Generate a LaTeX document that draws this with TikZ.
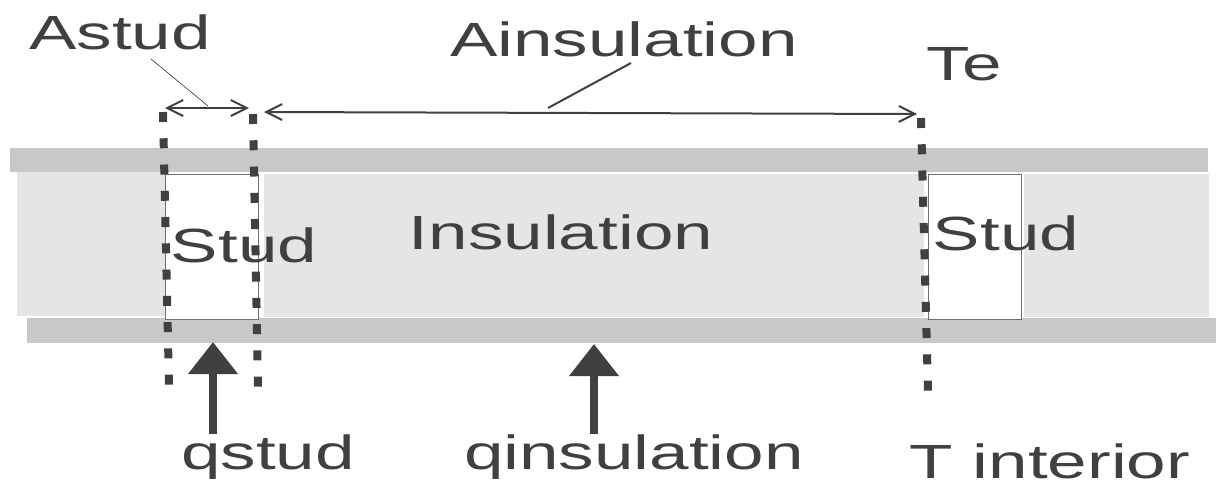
\documentclass[tikz,border=0pt]{standalone}
\usepackage{fontspec}
\setmainfont{Liberation Sans}
\usetikzlibrary{arrows.meta}
\definecolor{inkgray}{RGB}{64,64,64}
\definecolor{boardgray}{RGB}{200,200,200}
\definecolor{fillgray}{RGB}{229,229,229}
\tikzset{
  lbl/.style={text=inkgray,inner sep=0pt,font=\fontsize{36}{36}\selectfont,yscale=1.0,xscale=1.48},
  stud/.style={draw=inkgray!75,fill=white,line width=0.7pt,minimum width=70pt,minimum height=108.4pt,inner sep=0pt,anchor=north west},
  dots/.style={inkgray,line width=6pt,dash pattern=on 7.5pt off 12.2pt},
  span/.style={inkgray,line width=1.5pt,{Straight Barb[length=12pt,width=12pt]}-{Straight Barb[length=12pt,width=12pt]}},
  flow/.style={inkgray,line width=5.5pt,-{Triangle[length=24pt,width=36pt]}}
}
\begin{document}
\begin{tikzpicture}[x=0.75pt,y=-0.75pt]
\useasboundingbox (0,0) rectangle (1216,479);
% Draw the insulation and the two boards
\fill[fillgray] (17,172) rectangle (165,316);
\fill[fillgray] (264,174) rectangle (924,317);
\fill[fillgray] (1024,174) rectangle (1209,317);
\fill[boardgray] (10,147.5) rectangle (1208,172);
\fill[boardgray] (27,318) rectangle (1216,343);

% Draw the studs
\node[stud] (studa) at (165,174) {};
\node[stud] (studb) at (927.5,174) {};
\node[lbl] (studtexta) at (244,245) {Stud};
\node[lbl] (studtextb) at (1006,233) {Stud};
\node[lbl] (insultext) at (561,232) {Insulation};

% Draw the dotted cuts
\coordinate (cuta1) at (163,112);
\coordinate (cuta2) at (169,386);
\coordinate (cutb1) at (253,114);
\coordinate (cutb2) at (258,388);
\coordinate (cutc1) at (921,118);
\coordinate (cutc2) at (928,392);
\draw[dots] (cuta1) -- (cuta2);
\draw[dots] (cutb1) -- (cutb2);
\draw[dots] (cutc1) -- (cutc2);

% Draw the width arrows and their leaders
\coordinate (spana1) at (165,108);
\coordinate (spana2) at (249,108);
\coordinate (spanb1) at (264,112);
\coordinate (spanb2) at (917,114);
\coordinate (leada) at (208,106);
\coordinate (leadb) at (548,108);
\draw[span] (spana1) -- (spana2);
\draw[span] (spanb1) -- (spanb2);
\node[lbl] (astud) at (120,32) {Astud};
\node[lbl] (ainsul) at (624,39) {Ainsulation};
\node[lbl] (te) at (964,64) {Te};
\draw[inkgray,line width=0.5pt] (151,59) -- (leada);
\draw[inkgray,line width=1.5pt] (631,63) -- (leadb);

% Draw the heat flow arrows
\coordinate (flowa1) at (213,434);
\coordinate (flowa2) at (213,342);
\coordinate (flowb1) at (594,434);
\coordinate (flowb2) at (594,344);
\draw[flow] (flowa1) -- (flowa2);
\draw[flow] (flowb1) -- (flowb2);
\node[lbl] (qstud) at (268,457) {qstud};
\node[lbl] (qinsul) at (634,457) {qinsulation};
\node[lbl] (tint) at (1050,461) {T interior};
\end{tikzpicture}
\end{document}
